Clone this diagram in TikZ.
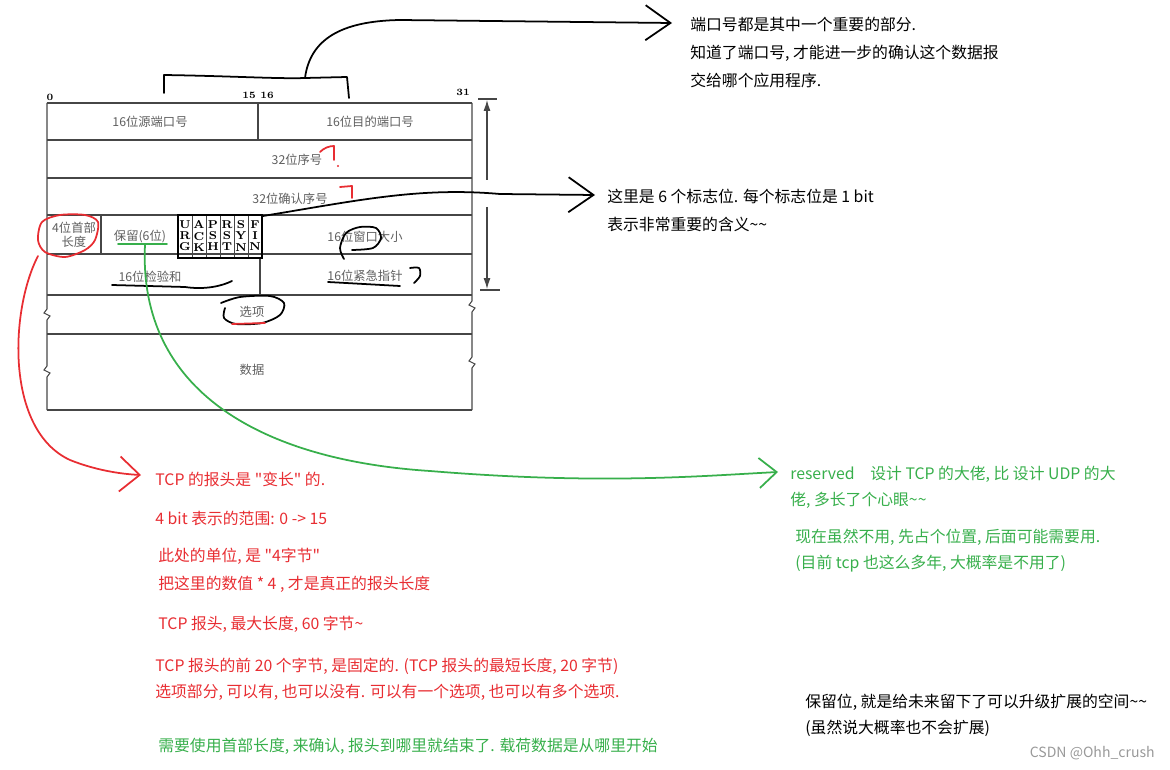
\documentclass[tikz,border=0pt]{standalone}
\usepackage{fontspec}
\newfontfamily\cjk{Noto Sans CJK SC}
\usetikzlibrary{arrows.meta,calc}
\definecolor{annred}{RGB}{232,45,50}
\definecolor{anngreen}{RGB}{55,175,75}
\definecolor{tabline}{RGB}{70,70,70}
\definecolor{tabtext}{RGB}{95,95,95}

\begin{document}
\begin{tikzpicture}[x=0.02cm, y=-0.02cm,
  cell/.style={font=\cjk\fontsize{7}{8.5}\selectfont, text=tabtext, inner sep=0pt, align=center},
  bitnum/.style={font=\bfseries\fontsize{5.5}{6}\selectfont, inner sep=0pt},
  flag/.style={font=\bfseries\fontsize{6.5}{6.3}\selectfont, inner sep=0pt, align=center},
  note/.style={font=\cjk\fontsize{9}{15.9}\selectfont, anchor=north west, align=left, inner sep=0pt},
  hand/.style={line width=1pt, line cap=round, line join=round},
  grid/.style={tabline, line width=0.6pt},
  barb/.style={-{Straight Barb[length=5mm, width=7mm]}},
]
\useasboundingbox (0,0) rectangle (1170,770);

% === TCP HEADER TABLE ===
\foreach \y in {103,140,178,215,254,295,334,410}
  \draw[grid] (47,\y) -- (472,\y);
\draw[grid] (47,103) -- (47,309) -- (44,313) -- (50,316) -- (47,320) -- (47,366)
  -- (44,370) -- (50,373) -- (47,377) -- (47,410);
\draw[grid] (472,103) -- (472,301) -- (469,305) -- (475,308) -- (472,312) -- (472,357)
  -- (469,361) -- (475,364) -- (472,368) -- (472,410);
\draw[grid] (258,103) -- (258,140);
\draw[grid] (101,215) -- (101,254);
\draw[grid] (260,258) -- (260,295);
\foreach \i in {1,...,5}
  \draw[grid, line width=0.4pt] (178+14*\i,215) -- (178+14*\i,258);
\draw[line width=1.3pt] (178,215) rectangle (262,258);

\node[bitnum] (b0) at (50,97) {0};
\node[bitnum] (b15) at (249,95) {15};
\node[bitnum] (b16) at (267,95) {16};
\node[bitnum] (b31) at (463,92) {31};

\node[cell] (srcport) at (150,122) {16位源端口号};
\node[cell] (dstport) at (370,122) {16位目的端口号};
\node[cell] (seq) at (297,160) {32位序号};
\node[cell] (ack) at (290,199) {32位确认序号};
\node[cell, font=\cjk\fontsize{7}{8}\selectfont] (hlen) at (74,235) {4位首部\\长度};
\node[cell] (rsv) at (140,236) {保留(6位)};
\foreach \a/\b/\c [count=\i from 0] in {U/R/G, A/C/K, P/S/H, R/S/T, S/Y/N, F/I/N}
  \node[flag] (flag\i) at (185+14*\i,236) {\a\\\b\\\c};
\node[cell] (win) at (365,237) {16位窗口大小};
\node[cell] (csum) at (150,277) {16位检验和};
\node[cell] (urg) at (365,276) {16位紧急指针};
\node[cell] (opt) at (252,312) {选项};
\node[cell] (data) at (252,370) {数据};

% header length arrow on the right
\draw[grid, -{Latex[length=2.2mm, width=1.4mm]}] (487,180) -- (487,100);
\draw[grid, -{Latex[length=2.2mm, width=1.4mm]}] (487,207) -- (487,289);
\draw[grid] (478,99) -- (497,99);
\draw[grid] (480,290) -- (500,290);

% === HAND MARKS ===
\draw[hand] (164,93) -- (164,75) .. controls (230,76) and (280,79) .. (305,78) -- (347,77) -- (349,98);
\draw[hand] (112,285) -- (185,287) .. controls (205,290) and (222,286) .. (232,281);
\draw[hand] (328,282) -- (400,286);
\draw[hand] plot[smooth] coordinates {(410,268) (419,268) (420,276) (414,283)};
\draw[hand] plot[smooth] coordinates {(344,259) (340,248) (346,233) (360,227) (376,228) (381,238) (373,248) (352,250)};
\draw[hand] plot[smooth] coordinates {(221,303) (240,297) (270,296) (284,303) (280,315) (262,323) (236,324) (224,318) (225,308)};
\draw[annred, hand] (232,324) -- (265,323);
\draw[annred, hand] (320,152) .. controls (324,148) and (329,146) .. (334,146) -- (334,160);
\fill[annred] (338,166) circle (1.2);
\draw[annred, hand] (340,187) -- (352,186) -- (352,198);
\draw[annred, hand] plot[smooth cycle] coordinates {(38,240) (42,222) (60,215) (85,215) (98,222) (95,240) (85,250) (65,257) (45,252)};
\draw[anngreen, hand] (118,244) -- (167,244);

% === NOTES ===
\node[note] (portnote) at (690,17) {端口号都是其中一个重要的部分.\\知道了端口号, 才能进一步的确认这个数据报\\交给哪个应用程序.};
\node[note] (flagnote) at (607,189) {这里是 6 个标志位. 每个标志位是 1 bit\\表示非常重要的含义\textasciitilde\textasciitilde};

\node[note, text=annred] (lennote1) at (155,472) {TCP 的报头是 "变长" 的.};
\node[note, text=annred] (lennote2) at (155,511) {4 bit 表示的范围: 0 -> 15};
\node[note, text=annred] (lennote3) at (158,548) {此处的单位, 是 "4字节"\\把这里的数值 * 4 , 才是真正的报头长度};
\node[note, text=annred] (lennote4) at (158,616) {TCP 报头, 最大长度, 60 字节\textasciitilde};
\node[note, text=annred, font=\cjk\fontsize{9}{14.7}\selectfont] (lennote5) at (155,658) {TCP 报头的前 20 个字节, 是固定的. (TCP 报头的最短长度, 20 字节)\\选项部分, 可以有, 也可以没有. 可以有一个选项, 也可以有多个选项.};
\node[note, text=anngreen] (lennote6) at (158,738) {需要使用首部长度, 来确认, 报头到哪里就结束了. 载荷数据是从哪里开始};

\node[note, text=anngreen, font=\cjk\fontsize{9}{14.7}\selectfont] (rsvnote1) at (790,466) {reserved\quad 设计 TCP 的大佬, 比 设计 UDP 的大\\佬, 多长了个心眼\textasciitilde\textasciitilde};
\node[note, text=anngreen, font=\cjk\fontsize{9}{14.7}\selectfont] (rsvnote2) at (795,529) {现在虽然不用, 先占个位置, 后面可能需要用.\\(目前 tcp 也这么多年, 大概率是不用了)};
\node[note, font=\cjk\fontsize{9}{14.7}\selectfont] (rsvnote3) at (805,694) {保留位, 就是给未来留下了可以升级扩展的空间\textasciitilde\textasciitilde\\(虽然说大概率也不会扩展)};
\node[note, anchor=east, text=gray!80, font=\cjk\fontsize{8}{9}\selectfont] (csdn) at (1155,753) {CSDN @Ohh\_crush};

% === CONNECTORS ===
\coordinate (brace) at (305,78);
\coordinate (porttip) at (672,23);
\coordinate (flagsNE) at (263,216);
\coordinate (flagtip) at (595,195);
\coordinate (hlenring) at (38,256);
\coordinate (redtip) at (141,475);
\coordinate (rsvline) at (145,245);
\coordinate (greentip) at (778,472);

\draw[hand, barb] (brace) .. controls (310,40) and (340,21) .. (400,20) -- (porttip);
\draw[hand, barb] (flagsNE) .. controls (360,200) and (420,187) .. (500,194) -- (flagtip);
\draw[annred, hand, -{Straight Barb[length=4mm, width=7mm]}] (hlenring) .. controls (10,310) and (5,430) .. (70,460) .. controls (95,470) and (120,474) .. (redtip);
\draw[anngreen, hand, -{Straight Barb[length=3.5mm, width=6mm]}] (rsvline) .. controls (138,390) and (260,460) .. (430,471) .. controls (600,485) and (700,476) .. (greentip);
\end{tikzpicture}
\end{document}
